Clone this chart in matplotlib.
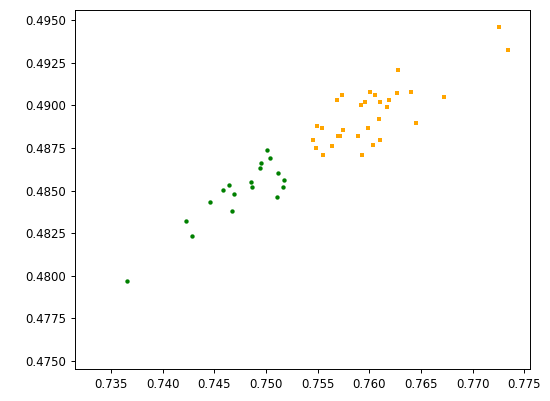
import matplotlib.pyplot as plt

# green group (circles)
green_x = [0.73655, 0.74228, 0.74286, 0.74457, 0.74583, 0.74644, 0.74686, 0.74670, 0.74857,
           0.74864, 0.74944, 0.74954, 0.75012, 0.75038, 0.75111, 0.75176, 0.75166, 0.75102]
green_y = [0.47971, 0.48323, 0.48233, 0.48431, 0.48501, 0.48530, 0.48481, 0.48382, 0.48550,
           0.48521, 0.48630, 0.48660, 0.48739, 0.48691, 0.48601, 0.48560, 0.48521, 0.48462]

# orange group (squares)
orange_x = [0.75737, 0.75689, 0.76005, 0.76056, 0.76269, 0.76407, 0.76726, 0.76279, 0.75959,
            0.75918, 0.76107, 0.76189, 0.76169, 0.76098, 0.76450, 0.75492, 0.75541, 0.75744,
            0.75982, 0.75454, 0.75695, 0.75718, 0.75892, 0.76104, 0.75485, 0.75640, 0.76040,
            0.75550, 0.75927, 0.77255, 0.77345]
orange_y = [0.49062, 0.49031, 0.49079, 0.49062, 0.49070, 0.49079, 0.49050, 0.49209, 0.49021,
            0.49001, 0.49021, 0.49031, 0.48988, 0.48918, 0.48898, 0.48878, 0.48867, 0.48857,
            0.48868, 0.48798, 0.48818, 0.48818, 0.48820, 0.48798, 0.48749, 0.48759, 0.48769,
            0.48710, 0.48710, 0.49457, 0.49324]

fig = plt.figure(figsize=(5.5, 4.01), dpi=100)
ax = fig.add_axes([0.1364, 0.0798, 0.8281, 0.8952])

ax.scatter(green_x, green_y, s=10, c='green', marker='o', linewidths=0)
ax.scatter(orange_x, orange_y, s=10, c='orange', marker='s', linewidths=0)

ax.set_xlim(0.7315, 0.7756)
ax.set_ylim(0.47453, 0.49559)
ax.set_xticks([0.735, 0.740, 0.745, 0.750, 0.755, 0.760, 0.765, 0.770, 0.775])
ax.set_yticks([0.4750, 0.4775, 0.4800, 0.4825, 0.4850, 0.4875, 0.4900, 0.4925, 0.4950])
ax.set_xticklabels(['%.3f' % v for v in ax.get_xticks()])
ax.set_yticklabels(['%.4f' % v for v in ax.get_yticks()])
ax.tick_params(labelsize=8.5, length=3, width=0.7)
for s in ax.spines.values():
    s.set_linewidth(0.7)

fig.savefig('out.png', dpi=100)
